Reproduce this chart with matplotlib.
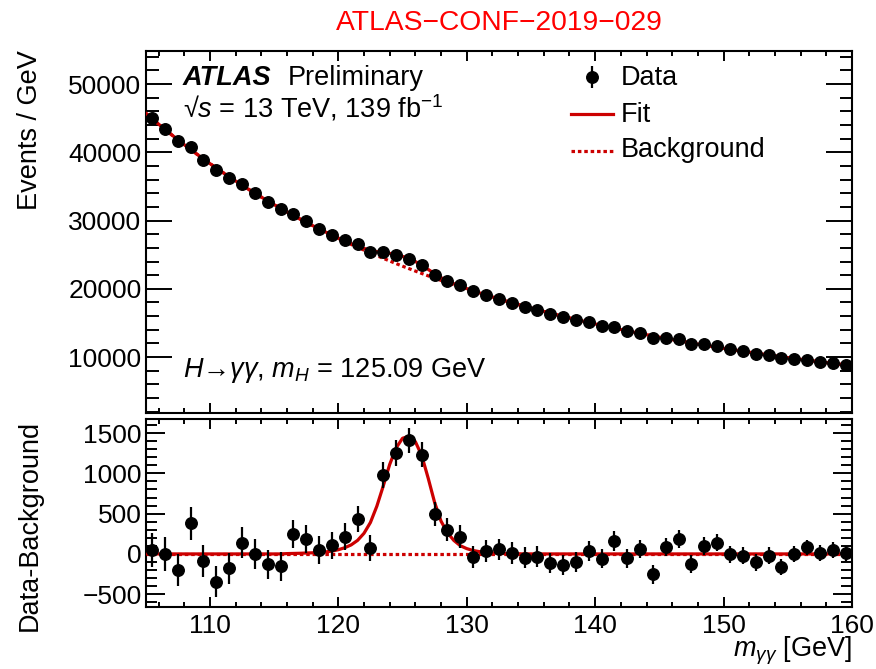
import numpy as np
import matplotlib
matplotlib.use("Agg")
import matplotlib.pyplot as plt
from matplotlib.ticker import MultipleLocator

plt.rcParams["font.family"] = ["Liberation Sans", "DejaVu Sans"]
plt.rcParams["mathtext.fontset"] = "custom"
plt.rcParams["mathtext.rm"] = "Liberation Sans"
plt.rcParams["mathtext.it"] = "Liberation Sans:italic"
plt.rcParams["mathtext.bf"] = "Liberation Sans:bold"

# diphoton mass bins, 1 GeV wide
mass = np.arange(105.5, 160.0, 1.0)

# background fit evaluated at the bin centres
bkg_centres = [44940, 43370, 41860, 40420, 39030, 37700, 36430, 35200, 34020, 32890,
               31800, 30750, 29740, 28780, 27850, 26950, 26090, 25260, 24470, 23700,
               22960, 22250, 21570, 20910, 20280, 19670, 19080, 18510, 17960, 17440,
               16930, 16440, 15960, 15510, 15070, 14650, 14240, 13840, 13460, 13090,
               12740, 12390, 12060, 11740, 11430, 11130, 10840, 10560, 10290, 10030,
               9780, 9540, 9300, 9070, 8850]

# background fit evaluated at the bin edges (105 ... 160 GeV)
bkg_edges = [45750, 44150, 42610, 41130, 39720, 38360, 37060, 35810, 34600, 33450,
             32340, 31270, 30240, 29250, 28310, 27390, 26510, 25670, 24860, 24080,
             23320, 22600, 21900, 21230, 20590, 19970, 19370, 18790, 18230, 17690,
             17180, 16680, 16190, 15730, 15280, 14850, 14440, 14030, 13640, 13270,
             12910, 12560, 12220, 11890, 11580, 11270, 10980, 10690, 10420, 10150,
             9900, 9650, 9410, 9180, 8950, 8740]

# data minus background per bin
residual = [50, 0, -200, 380, -85, -345, -180, 140, 0, -130,
            -155, 250, 180, 50, 105, 215, 435, 70, 975, 1250,
            1410, 1230, 495, 300, 215, -40, 40, 55, 8, -45,
            -35, -115, -135, -95, 35, -60, 160, -55, 60, -255,
            85, 180, -125, 100, 140, -5, -20, -105, -20, -165,
            0, 80, 12, 50, 8]

# signal component of the fit, 116 ... 134 GeV in 0.5 GeV steps
signal_start = 116.0
signal = [4, 6, 8, 11, 14, 18, 25, 35, 52, 77,
          112, 168, 256, 390, 592, 843, 1110, 1315, 1435, 1460,
          1393, 1218, 939, 638, 406, 263, 167, 102, 66, 42,
          28, 19, 13, 8, 5, 3, 2]

bkg_centres = np.array(bkg_centres, dtype=float)
residual = np.array(residual, dtype=float)
data = bkg_centres + residual
err = np.sqrt(data)

curve_mass = np.arange(105.0, 160.01, 0.5)
bkg_curve = np.empty(len(curve_mass))
bkg_curve[0::2] = bkg_edges
bkg_curve[1::2] = bkg_centres
sig_curve = np.zeros(len(curve_mass))
i0 = int(round((signal_start - 105.0) / 0.5))
sig_curve[i0:i0 + len(signal)] = signal
fit_curve = bkg_curve + sig_curve

red = "#cc0000"
fs = 19.5
dots = (0, (1.1, 0.9))

fig = plt.figure(figsize=(8.76, 6.69), dpi=100)
ax1 = fig.add_axes([0.1663, 0.3827, 0.8063, 0.5415])
ax2 = fig.add_axes([0.1663, 0.0931, 0.8063, 0.2801])

# upper panel
ax1.plot(curve_mass, bkg_curve, color=red, lw=2.3, ls=dots, zorder=2)
ax1.plot(curve_mass, fit_curve, color=red, lw=2.3, zorder=3, solid_joinstyle="round")
ax1.errorbar(mass, data, yerr=err, fmt="o", color="black", ms=8.3, elinewidth=1.6,
             capsize=0, zorder=4)
ax1.set_xlim(105, 160)
ax1.set_ylim(1800, 54900)
ax1.yaxis.set_major_locator(MultipleLocator(10000))
ax1.yaxis.set_minor_locator(MultipleLocator(2000))

# lower panel
ax2.axhline(0, color=red, lw=2.3, ls=dots, zorder=2)
ax2.plot(curve_mass, sig_curve, color=red, lw=2.3, zorder=3, solid_joinstyle="round")
ax2.errorbar(mass, residual, yerr=err, fmt="o", color="black", ms=8.3, elinewidth=1.6,
             capsize=0, zorder=4)
ax2.set_xlim(105, 160)
ax2.set_ylim(-655, 1670)
ax2.yaxis.set_major_locator(MultipleLocator(500))
ax2.yaxis.set_minor_locator(MultipleLocator(100))

for ax, ymaj, ymin in ((ax1, 18.5, 9.0), (ax2, 13.5, 7.8)):
    ax.xaxis.set_major_locator(MultipleLocator(10))
    ax.xaxis.set_minor_locator(MultipleLocator(2))
    ax.tick_params(axis="both", which="both", direction="in", top=True, right=True,
                   width=1.4, labelsize=19)
    ax.tick_params(axis="x", which="major", length=7, pad=5)
    ax.tick_params(axis="x", which="minor", length=3.5)
    ax.tick_params(axis="y", which="major", length=ymaj, pad=3)
    ax.tick_params(axis="y", which="minor", length=ymin)
    for sp in ax.spines.values():
        sp.set_linewidth(1.5)

ax1.tick_params(axis="x", labelbottom=False)

# labels
fig.text(0.034, 0.925, "Events / GeV", rotation=90, ha="center", va="top", fontsize=fs)
fig.text(0.034, 0.373, "Data-Background", rotation=90, ha="center", va="top", fontsize=fs)
fig.text(852 / 876, 1 - 651 / 669, r"$m_{\gamma\gamma}$ [GeV]", ha="right",
         va="center", fontsize=fs)
fig.text(499 / 876, 1 - 30 / 669, "ATLAS\u2212CONF\u22122019\u2212029", ha="center",
         va="baseline", fontsize=20.3, color="#ff0000")

ax1.text(0.0528, 0.9053, "ATLAS", transform=ax1.transAxes, fontsize=fs,
         weight="bold", style="italic", va="baseline")
ax1.text(0.2015, 0.9053, "Preliminary", transform=ax1.transAxes, fontsize=fs,
         va="baseline")
ax1.text(0.0528, 0.817, "\u221a$s$ = 13 TeV, 139 fb$^{-1}$", transform=ax1.transAxes,
         fontsize=fs, va="baseline")
ax1.text(0.0528, 0.0994, "$H$\u2192$\\gamma\\gamma$, $m_{H}$ = 125.09 GeV",
         transform=ax1.transAxes, fontsize=fs, va="baseline")

# legend
tr = ax1.transAxes
ax1.errorbar([0.6315], [0.9275], yerr=[0.030], fmt="o", color="black", ms=8.3,
             elinewidth=1.6, capsize=0, transform=tr, clip_on=False)
ax1.plot([0.602, 0.662], [0.8264, 0.8264], color=red, lw=2.3, transform=tr)
ax1.plot([0.602, 0.662], [0.722, 0.722], color=red, lw=2.3, ls=dots, transform=tr)
ax1.text(0.673, 0.9046, "Data", transform=tr, fontsize=fs, va="baseline")
ax1.text(0.673, 0.804, "Fit", transform=tr, fontsize=fs, va="baseline")
ax1.text(0.673, 0.7074, "Background", transform=tr, fontsize=fs, va="baseline")

fig.savefig("out.png", dpi=100)
